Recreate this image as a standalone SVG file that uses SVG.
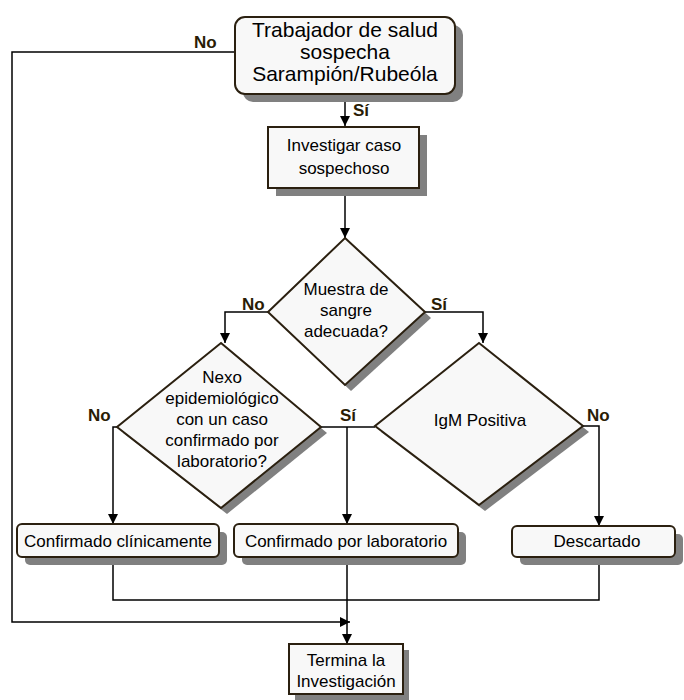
<svg xmlns="http://www.w3.org/2000/svg" width="684" height="700" viewBox="0 0 684 700">
<defs>
<marker id="arr" markerUnits="userSpaceOnUse" markerWidth="10" markerHeight="10" viewBox="0 0 10 10" refX="10" refY="5" orient="auto">
<path d="M0,0 L10,5 L0,10 z" fill="#000"/>
</marker>
<style>
.sh{fill:#808080;stroke:none}
.nd{fill:#f8f8f8;stroke:#2b2010;stroke-width:2}
.t{font-family:"Liberation Sans",Arial,sans-serif;fill:#000;text-anchor:middle}
.lb{font-family:"Liberation Sans",Arial,sans-serif;font-weight:bold;font-size:17px;fill:#2a1c05}
.c{fill:none;stroke:#000;stroke-width:1.5}
</style>
</defs>
<rect width="684" height="700" fill="#fff"/>
<g id="connectors">
<path class="c" d="M345,94 V126" marker-end="url(#arr)"/>
<path class="c" d="M345,188 V238" marker-end="url(#arr)"/>
<path class="c" d="M268,312 H225 V343" marker-end="url(#arr)"/>
<path class="c" d="M425,312 H483 V343" marker-end="url(#arr)"/>
<path class="c" d="M117,427 H113 V524" marker-end="url(#arr)"/>
<path class="c" d="M321,427 H375"/>
<path class="c" d="M347,427 V524" marker-end="url(#arr)"/>
<path class="c" d="M583,426 H599 V526" marker-end="url(#arr)"/>
<path class="c" d="M113,557 V600 H599 V557"/>
<path class="c" d="M347,557 V644" marker-end="url(#arr)"/>
<path class="c" d="M235,52 H12 V622 H350" marker-end="url(#arr)"/>
<text class="lb" x="194" y="48">No</text>
<text class="lb" x="353" y="116">Sí</text>
<text class="lb" x="242" y="310">No</text>
<text class="lb" x="431" y="310">Sí</text>
<text class="lb" x="88" y="421">No</text>
<text class="lb" x="340" y="421">Sí</text>
<text class="lb" x="587" y="421">No</text>
</g>
<g id="start">
<rect class="sh" x="243" y="25" width="220" height="77" rx="10"/>
<rect class="nd" x="235" y="17" width="220" height="77" rx="10"/>
<text class="t" font-size="21" x="345" y="37">Trabajador de salud</text>
<text class="t" font-size="21" x="345" y="59">sospecha</text>
<text class="t" font-size="21" x="345" y="81">Sarampión/Rubeóla</text>
</g>
<g id="investigar">
<rect class="sh" x="276" y="135" width="151" height="61"/>
<rect class="nd" x="268" y="127" width="151" height="61"/>
<text class="t" font-size="17" x="344" y="151">Investigar caso</text>
<text class="t" font-size="17" x="344" y="174">sospechoso</text>
</g>
<g id="muestra">
<polygon class="sh" points="351,244 431,318 351,391 274,318"/>
<polygon class="nd" points="345,238 425,312 345,385 268,312"/>
<text class="t" font-size="17" x="346" y="295">Muestra de</text>
<text class="t" font-size="17" x="346" y="316">sangre</text>
<text class="t" font-size="17" x="346" y="337">adecuada?</text>
</g>
<g id="nexo">
<polygon class="sh" points="227,349 327,433 227,514 123,433"/>
<polygon class="nd" points="221,343 321,427 221,508 117,427"/>
<text class="t" font-size="17" x="222" y="383">Nexo</text>
<text class="t" font-size="17" x="222" y="404">epidemiológico</text>
<text class="t" font-size="17" x="222" y="425">con un caso</text>
<text class="t" font-size="17" x="222" y="446">confirmado por</text>
<text class="t" font-size="17" x="222" y="467">laboratorio?</text>
</g>
<g id="igm">
<polygon class="sh" points="485,349 589,432 485,511 381,432"/>
<polygon class="nd" points="479,343 583,426 479,505 375,426"/>
<text class="t" font-size="17" x="480" y="426">IgM Positiva</text>
</g>
<g id="clinico">
<rect class="sh" x="25" y="532" width="202" height="33" rx="5"/>
<rect class="nd" x="17" y="524" width="202" height="33" rx="5"/>
<text class="t" font-size="17" x="118" y="547">Confirmado clínicamente</text>
</g>
<g id="laboratorio">
<rect class="sh" x="242" y="532" width="224" height="33" rx="5"/>
<rect class="nd" x="234" y="524" width="224" height="33" rx="5"/>
<text class="t" font-size="17" x="346" y="547">Confirmado por laboratorio</text>
</g>
<g id="descartado">
<rect class="sh" x="520" y="534" width="163" height="31" rx="5"/>
<rect class="nd" x="512" y="526" width="163" height="31" rx="5"/>
<text class="t" font-size="17" x="597" y="547">Descartado</text>
</g>
<g id="termina">
<rect class="sh" x="295" y="650" width="114" height="50"/>
<rect class="nd" x="289" y="644" width="114" height="50"/>
<text class="t" font-size="17" x="346" y="666">Termina la</text>
<text class="t" font-size="17" x="346" y="687">Investigación</text>
</g>
</svg>
